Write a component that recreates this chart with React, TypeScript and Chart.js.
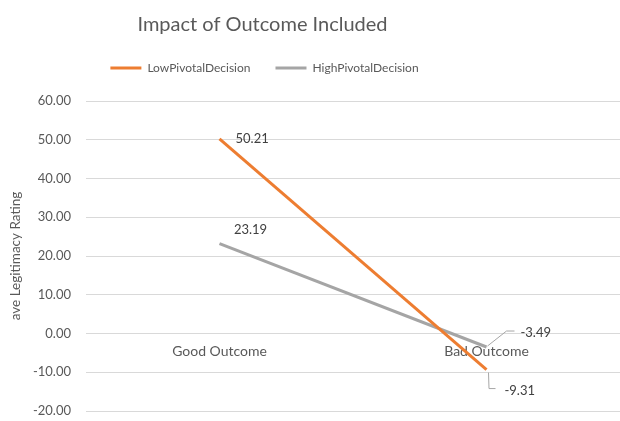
import React, { useEffect, useRef } from "react";
import { Chart, registerables } from "chart.js";

Chart.register(...registerables);

const categories = ["Good Outcome", "Bad Outcome"];
const lowPivotal = [50.21, -9.31];
const highPivotal = [23.19, -3.49];
const seriesNames = ["LowPivotalDecision", "HighPivotalDecision"];
const yTicks = { min: -20, max: 60, step: 10 };

const FONT = "Lato, 'Open Sans', sans-serif";
const TEXT = "#595959";

// label placement (style only): per dataset, per point
const labelPlacement = [
  [
    { dx: 16, dy: 0, align: "left", leader: null },
    { dx: 18, dy: 21, align: "left", leader: "down" },
  ],
  [
    { dx: 31, dy: -14, align: "center", leader: null },
    { dx: 34, dy: -14, align: "left", leader: "up" },
  ],
];

const dataLabels = {
  id: "dataLabels",
  afterDatasetsDraw(chart: any) {
    const ctx = chart.ctx;
    ctx.save();
    ctx.font = `13px ${FONT}`;
    ctx.textBaseline = "middle";
    chart.data.datasets.forEach((ds: any, di: number) => {
      const meta = chart.getDatasetMeta(di);
      meta.data.forEach((pt: any, i: number) => {
        const p = labelPlacement[di][i];
        const v = ds.data[i] as number;
        const tx = pt.x + p.dx;
        const ty = pt.y + p.dy;
        if (p.leader) {
          ctx.strokeStyle = "#a6a6a6";
          ctx.lineWidth = 1;
          ctx.beginPath();
          if (p.leader === "up") {
            ctx.moveTo(pt.x + 1, pt.y - 1);
            ctx.lineTo(pt.x + 20, pt.y - 16);
            ctx.lineTo(pt.x + 28, pt.y - 16);
          } else {
            ctx.moveTo(pt.x + 2, pt.y + 3);
            ctx.lineTo(pt.x + 2.5, pt.y + 19);
            ctx.lineTo(pt.x + 9, pt.y + 19);
          }
          ctx.stroke();
        }
        ctx.fillStyle = "#404040";
        ctx.textAlign = p.align;
        ctx.fillText(v.toFixed(2), tx, ty);
      });
    });
    ctx.restore();
  },
};

// shift title and legend horizontally to match the reference layout
const headerShift = {
  id: "headerShift",
  afterLayout(chart: any) {
    if (chart.titleBlock) {
      chart.titleBlock.left = 0;
      chart.titleBlock.right = 525;
    }
    if (chart.legend) {
      chart.legend.left = 0;
      chart.legend.right = 529;
    }
  },
};

export default function App() {
  const ref = useRef<HTMLCanvasElement>(null);
  useEffect(() => {
    if (!ref.current) return;
    const chart = new Chart(ref.current, {
      type: "line",
      data: {
        labels: categories,
        datasets: [
          {
            label: seriesNames[0],
            data: lowPivotal,
            borderColor: "#ED7D31",
            backgroundColor: "#ED7D31",
            borderWidth: 3,
            pointRadius: 0,
            tension: 0,
          },
          {
            label: seriesNames[1],
            data: highPivotal,
            borderColor: "#A5A5A5",
            backgroundColor: "#A5A5A5",
            borderWidth: 3,
            pointRadius: 0,
            tension: 0,
          },
        ],
      },
      options: {
        animation: false,
        responsive: false,
        layout: { padding: { left: 0, right: 0, top: 0, bottom: 10 } },
        plugins: {
          title: {
            display: true,
            text: "Impact of Outcome Included",
            color: TEXT,
            font: { family: FONT, size: 20, weight: "normal", lineHeight: 1.2 },
            padding: { top: 13, bottom: 0 },
          },
          subtitle: {
            display: true,
            text: "",
            weight: 500,
            font: { size: 10, lineHeight: 1.2 },
            padding: { top: 5, bottom: 0 },
          } as any,
          legend: {
            display: true,
            labels: {
              color: TEXT,
              font: { family: FONT, size: 12 },
              boxWidth: 31,
              boxHeight: 3,
              padding: 25,
              generateLabels: (c: any) =>
                c.data.datasets.map((d: any, i: number) => ({
                  text: d.label,
                  fillStyle: d.borderColor,
                  strokeStyle: d.borderColor,
                  lineWidth: 0,
                  hidden: false,
                  datasetIndex: i,
                  fontColor: TEXT,
                })),
            },
          },
          tooltip: { enabled: false },
        },
        scales: {
          x: {
            type: "category",
            offset: true,
            position: { y: 0 } as any,
            grid: { display: false },
            border: { display: false },
            ticks: { color: TEXT, font: { family: FONT, size: 14 }, padding: 2 },
            afterFit: (s: any) => {
              s.height = 0;
            },
          },
          y: {
            min: yTicks.min,
            max: yTicks.max,
            ticks: {
              stepSize: yTicks.step,
              color: TEXT,
              font: { family: FONT, size: 13 },
              padding: 2,
              callback: (v: any) => Number(v).toFixed(2),
            },
            grid: {
              color: "#d9d9d9",
              drawTicks: true,
              tickLength: 13,
              tickColor: "rgba(0,0,0,0)",
              lineWidth: 1,
            },
            border: { display: false },
            title: {
              display: true,
              text: "ave Legitimacy Rating",
              color: TEXT,
              font: { family: FONT, size: 13.5 },
              padding: { top: 8, bottom: 0 },
            },
            afterFit: (s: any) => {
              s.width = 86;
            },
          },
        },
      },
      plugins: [dataLabels, headerShift],
    });
    return () => chart.destroy();
  }, []);
  return (
    <div style={{ position: "fixed", left: 0, top: 0, width: 620, height: 421, background: "#fff" }}>
      <canvas ref={ref} width={620} height={421} />
    </div>
  );
}
